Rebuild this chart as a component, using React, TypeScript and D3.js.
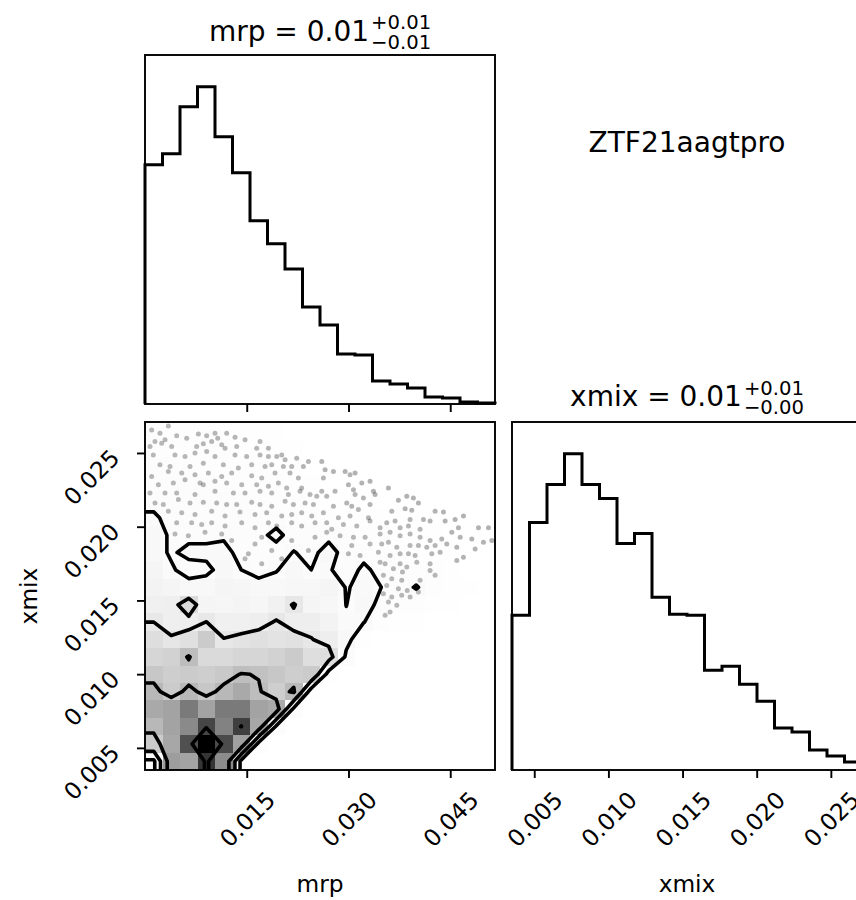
import React from "react";
import * as d3 from "d3";

// parameter names and object id
const paramNames = ["mrp", "xmix"];
const objectName = "ZTF21aagtpro";

// axis limits (sample range) of each parameter
const mrpRange = [0.0, 0.0516];
const xmixRange = [0.0035, 0.0271];

const mrpTicks = [0.015, 0.03, 0.045];
const xmixTicks = [0.005, 0.01, 0.015, 0.02, 0.025];

// title quantiles: median, +err, -err
const mrpSummary = ["0.01", "0.01", "0.01"];
const xmixSummary = ["0.01", "0.01", "0.00"];

// 1d marginal histograms (20 bins)
const mrpCounts = [239, 250, 297, 317, 267, 231, 183, 160, 135, 97, 79, 50, 49, 23, 20, 16, 7, 6, 2, 1];
const xmixCounts = [155, 248, 286, 317, 286, 272, 227, 237, 173, 156, 155, 100, 104, 86, 69, 42, 38, 20, 14, 8];

// 2d histogram mrp (columns) vs xmix (rows), first row = highest xmix
const densityRows = [
  [8, 9, 8, 8, 7, 7, 6, 5, 3, 0, 0, 0, 0, 0, 0, 0, 0, 0, 0, 0],
  [9, 9, 9, 8, 8, 7, 7, 6, 5, 2, 0, 0, 0, 0, 0, 0, 0, 0, 0, 0],
  [10, 10, 9, 9, 9, 8, 8, 7, 6, 4, 2, 0, 0, 0, 0, 0, 0, 0, 0, 0],
  [10, 11, 10, 10, 9, 9, 9, 8, 7, 6, 4, 3, 1, 0, 0, 0, 0, 0, 0, 0],
  [11, 11, 11, 10, 10, 10, 9, 9, 8, 7, 6, 5, 4, 2, 1, 0, 0, 0, 0, 0],
  [14, 11, 11, 11, 11, 10, 10, 10, 9, 8, 8, 7, 6, 5, 4, 3, 2, 1, 0, 0],
  [16, 12, 11, 11, 12, 11, 11, 15, 10, 10, 11, 10, 9, 8, 7, 6, 5, 3, 2, 1],
  [16, 12, 15, 15, 15, 11, 10, 10, 13.3, 11, 16, 10, 11, 9, 8, 7, 6, 5, 3, 2],
  [20, 14, 10, 11, 16, 13, 10.3, 12.6, 16, 13, 13.7, 10, 14.3, 11, 10, 9, 8, 6, 4, 3],
  [22, 20, 16, 17, 20, 19, 16, 16, 18, 18, 20, 12.5, 14.8, 13, 10, 13.6, 9, 7, 5, 3],
  [24, 25, 38, 20, 19, 21, 19, 23, 31, 20, 18, 12.9, 16, 11, 9, 8, 7, 5, 3, 2],
  [30, 25, 26, 30.2, 24, 24, 26, 31, 26, 26, 22, 13.9, 13.2, 9, 7, 5, 4, 3, 1, 0],
  [36, 31.5, 35, 45, 30.5, 33, 35, 33, 34, 30.5, 26, 16, 6, 3, 2, 1, 0, 0, 0, 0],
  [40, 42, 51, 38, 38, 40, 40, 42, 45, 36, 36, 11, 4, 1, 0, 0, 0, 0, 0, 0],
  [47, 44, 45, 44, 46, 50.5, 49.5, 47, 44, 45, 7, 1, 0, 0, 0, 0, 0, 0, 0, 0],
  [53, 45, 53, 46.6, 53, 58, 51, 44, 52, 5, 0, 0, 0, 0, 0, 0, 0, 0, 0, 0],
  [58, 60, 72, 60, 72, 72, 60, 57.6, 10, 2, 0, 0, 0, 0, 0, 0, 0, 0, 0, 0],
  [53, 60, 68, 85, 70, 86.5, 59, 11, 2, 0, 0, 0, 0, 0, 0, 0, 0, 0, 0, 0],
  [45, 59, 82.7, 100, 84, 61, 8, 0, 0, 0, 0, 0, 0, 0, 0, 0, 0, 0, 0, 0],
  [10, 62, 60, 89, 67, 9, 0, 0, 0, 0, 0, 0, 0, 0, 0, 0, 0, 0, 0, 0],
];

// density levels of the contour lines
const contourLevels = [13, 30, 50, 86];

// samples in the sparse region, [mrp, xmix] in units of 1e-3
const samples = [
  [3.44, 26.83], [0.98, 26.56], [2.21, 26.34], [4.67, 26.16], [6.15, 26.0], [7.87, 26.29], [9.09, 26.16],
  [10.32, 26.34], [10.72, 26.0], [12.04, 26.34], [13.27, 26.07], [14.75, 25.89], [16.96, 25.77], [2.95, 25.89],
  [1.47, 25.77], [0.74, 25.44], [2.46, 25.66], [3.93, 25.44], [7.62, 25.44], [8.6, 25.62], [9.83, 25.77],
  [11.31, 25.55], [11.8, 25.32], [13.52, 25.44], [16.47, 25.32], [18.19, 25.32], [19.42, 24.76], [20.16, 24.87],
  [1.23, 24.87], [4.42, 24.87], [5.9, 24.76], [7.37, 24.99], [9.09, 25.1], [10.32, 24.76], [13.27, 24.87],
  [14.99, 24.76], [16.96, 24.87], [18.19, 24.76], [20.65, 24.54], [22.37, 24.65], [24.09, 24.42], [2.21, 24.2],
  [3.69, 24.09], [6.64, 24.09], [8.6, 24.31], [11.55, 24.2], [13.76, 23.98], [15.73, 24.2], [17.7, 24.09],
  [18.68, 24.2], [20.4, 24.09], [21.63, 24.09], [23.35, 24.09], [0.98, 23.41], [3.44, 23.75], [5.41, 23.64],
  [7.37, 23.53], [9.34, 23.64], [11.31, 23.41], [12.78, 23.64], [15.73, 23.46], [17.21, 23.3], [19.17, 23.64],
  [21.38, 23.64], [22.61, 23.3], [1.97, 22.85], [4.18, 22.96], [5.9, 23.19], [8.11, 22.96], [8.6, 22.85],
  [10.32, 23.08], [12.04, 22.96], [14.26, 22.85], [16.47, 22.85], [18.19, 22.74], [19.66, 22.96], [20.89, 22.63],
  [23.1, 22.63], [0.74, 22.29], [2.95, 22.29], [4.67, 22.29], [7.37, 22.18], [10.32, 22.4], [13.03, 22.29],
  [14.75, 22.29], [16.96, 22.4], [18.68, 22.29], [21.14, 22.18], [22.86, 22.4], [24.33, 22.18], [25.32, 22.06],
  [1.47, 21.61], [2.7, 21.5], [4.92, 21.84], [6.64, 21.61], [8.6, 21.66], [10.57, 21.61], [12.04, 21.5],
  [13.52, 21.5], [15.73, 21.66], [16.96, 21.5], [18.68, 21.39], [20.65, 21.73], [21.88, 21.5], [23.6, 21.61],
  [24.83, 21.5], [3.44, 21.05], [5.41, 20.94], [7.37, 20.83], [9.83, 21.05], [11.8, 20.72], [14.01, 20.99],
  [16.22, 20.83], [17.94, 20.94], [20.16, 20.72], [21.63, 20.83], [23.1, 20.94], [24.58, 20.72], [4.67, 20.27],
  [6.88, 20.27], [8.36, 20.15], [9.83, 20.27], [11.8, 20.04], [14.26, 20.27], [16.22, 19.93], [18.19, 20.27],
  [19.42, 20.04], [21.63, 20.27], [23.1, 20.04], [25.07, 20.27],
  [26.06, 24.42], [26.55, 23.86], [27.78, 23.75], [26.3, 23.3], [29.5, 23.75], [30.23, 23.53], [30.97, 23.64],
  [33.18, 23.08], [31.96, 22.96], [29.99, 22.85], [30.73, 22.51], [26.06, 22.4], [28.02, 22.4], [26.79, 22.06],
  [33.68, 22.4], [33.92, 22.18], [35.89, 22.63], [30.97, 22.18], [32.2, 21.95], [29.74, 21.61], [27.78, 21.39],
  [30.48, 21.39], [31.46, 21.17], [33.18, 21.5], [37.36, 21.79], [38.59, 22.06], [39.57, 21.95], [40.31, 21.61],
  [36.38, 21.05], [38.35, 21.21], [39.33, 21.12], [26.3, 20.94], [28.51, 20.6], [30.23, 20.72], [32.94, 20.6],
  [33.18, 20.38], [35.64, 20.27], [36.87, 20.38], [39.08, 20.49], [41.05, 20.49], [42.03, 20.38], [42.77, 21.05],
  [44.0, 20.99], [44.25, 20.38], [45.72, 20.49], [46.95, 20.72], [26.79, 20.27], [29.25, 20.15], [31.22, 20.04],
  [34.66, 19.93], [37.61, 19.93], [38.84, 20.04], [40.56, 19.82], [46.21, 19.93], [49.16, 19.93], [50.64, 19.93],
  [27.53, 19.82],
  [26.79, 19.62], [28.76, 19.39], [30.73, 19.28], [32.45, 19.28], [34.66, 19.51], [36.13, 19.62], [37.61, 19.39],
  [39.08, 19.51], [40.56, 19.28], [42.03, 19.06], [43.75, 19.17], [45.23, 19.62], [46.46, 19.28], [48.18, 19.17],
  [49.9, 18.94], [51.13, 19.06], [30.48, 18.72], [33.18, 18.83], [34.9, 18.83], [35.89, 18.94], [37.12, 18.61],
  [39.08, 18.72], [40.31, 18.72], [41.54, 18.61], [42.77, 18.72], [44.49, 18.83], [45.97, 18.61], [48.67, 18.49],
  [29.99, 18.16], [31.71, 18.04], [34.41, 18.27], [36.13, 18.04], [37.61, 18.16], [38.84, 18.16], [39.82, 18.04],
  [42.28, 18.16], [43.51, 18.27], [45.97, 17.71], [46.95, 17.93], [34.66, 17.59], [35.4, 17.48], [37.61, 17.48],
  [38.59, 17.26], [40.07, 17.59], [42.03, 17.48], [36.62, 17.14], [37.96, 16.92], [42.03, 17.03], [42.77, 16.7],
  [35.15, 16.7], [36.38, 16.47], [37.85, 16.36], [40.56, 16.36], [35.64, 16.02], [37.36, 15.8], [38.66, 15.68],
  [40.31, 15.57], [35.15, 15.46], [36.38, 15.23], [37.85, 15.35], [39.08, 15.23], [35.89, 14.9], [37.12, 14.67],
  [36.13, 14.22], [35.4, 14.0],
  [4.42, 19.51], [6.39, 19.39], [8.85, 19.62], [11.31, 19.51], [12.78, 19.06], [15.24, 18.16], [16.22, 18.83],
  [14.75, 17.82], [17.21, 17.48], [18.68, 18.38], [20.16, 17.82], [21.63, 19.06], [22.61, 17.71], [24.09, 18.38],
  [25.07, 19.28], [6.88, 18.38], [8.36, 17.93], [9.83, 18.38], [11.31, 18.38], [17.21, 19.28], [23.6, 17.03],
];

const W = 856;
const H = 900;
const FONT = "DejaVu Sans, Verdana, sans-serif";

function addTitle(g, cx, base, name, s) {
  const main = g.append("text").attr("y", base).attr("font-size", 28).text(`${name} = ${s[0]}`);
  const sup = g.append("text").attr("y", base - 11.5).attr("font-size", 19.6).text(`+${s[1]}`);
  const sub = g.append("text").attr("y", base + 8).attr("font-size", 19.6).text(`\u2212${s[2]}`);
  const w1 = main.node().getComputedTextLength();
  const w2 = Math.max(sup.node().getComputedTextLength(), sub.node().getComputedTextLength());
  const x0 = cx - (w1 + 2 + w2) / 2;
  main.attr("x", x0);
  sup.attr("x", x0 + w1 + 2);
  sub.attr("x", x0 + w1 + 2);
}

function drawCorner(svgEl) {
  const svg = d3.select(svgEl);
  svg.selectAll("*").remove();
  svg.attr("width", W).attr("height", H).style("font-family", FONT);

  // panel frames
  const left = 145, right = 495, left2 = 512, right2 = 862;
  const top1 = 55, bot1 = 404, top2 = 422, bot2 = 770;
  const nb = mrpCounts.length;

  const xMrp = d3.scaleLinear().domain(mrpRange).range([left, right]);
  const xXmix = d3.scaleLinear().domain(xmixRange).range([left2, right2]);
  const yXmix = d3.scaleLinear().domain(xmixRange).range([bot2, top2]);
  const yH1 = d3.scaleLinear().domain([0, 1.1 * d3.max(mrpCounts)]).range([bot1, top1]);
  const yH2 = d3.scaleLinear().domain([0, 1.1 * d3.max(xmixCounts)]).range([bot2, top2]);

  const edges = (r) => d3.range(nb + 1).map((i) => r[0] + (i * (r[1] - r[0])) / nb);
  const mrpEdges = edges(mrpRange);
  const xmixEdges = edges(xmixRange);

  const stepPts = (e, counts) => {
    const pts = [[e[0], 0]];
    counts.forEach((c, i) => {
      pts.push([e[i], c]);
      pts.push([e[i + 1], c]);
    });
    pts.push([e[nb], 0]);
    return pts;
  };

  const defs = svg.append("defs");
  defs.append("clipPath").attr("id", "clip2d").append("rect")
    .attr("x", left).attr("y", top2).attr("width", right - left).attr("height", bot2 - top2);

  // ---- top left: mrp histogram
  const line1 = d3.line().x((d) => xMrp(d[0])).y((d) => yH1(d[1]));
  svg.append("path").attr("d", line1(stepPts(mrpEdges, mrpCounts)))
    .attr("fill", "none").attr("stroke", "black").attr("stroke-width", 3).attr("stroke-linejoin", "miter");

  // ---- right: xmix histogram
  const line2 = d3.line().x((d) => xXmix(d[0])).y((d) => yH2(d[1]));
  svg.append("path").attr("d", line2(stepPts(xmixEdges, xmixCounts)))
    .attr("fill", "none").attr("stroke", "black").attr("stroke-width", 3).attr("stroke-linejoin", "miter");

  // ---- 2d panel
  const g2 = svg.append("g").attr("clip-path", "url(#clip2d)");

  g2.append("g").selectAll("circle").data(samples).join("circle")
    .attr("cx", (d) => xMrp(d[0] * 1e-3)).attr("cy", (d) => yXmix(d[1] * 1e-3))
    .attr("r", 2.5).attr("fill", "black").attr("fill-opacity", 0.3);

  // padded grid like corner.hist2d for contours at plot edges
  const n = nb, m = n + 4;
  const dens = densityRows.slice().reverse();
  const flat = dens.flat();
  const hMax = d3.max(flat), hMin = d3.min(flat);
  const grid = new Array(m * m).fill(hMin);
  const put = (j, i, v) => { grid[j * m + i] = v; };
  for (let k = 0; k < n; k++) for (let i = 0; i < n; i++) put(k + 2, i + 2, dens[k][i]);
  for (let k = 0; k < n; k++) { put(k + 2, 1, dens[k][0]); put(k + 2, m - 2, dens[k][n - 1]); }
  for (let i = 0; i < n; i++) { put(1, i + 2, dens[0][i]); put(m - 2, i + 2, dens[n - 1][i]); }
  put(1, 1, dens[0][0]); put(1, m - 2, dens[0][n - 1]);
  put(m - 2, 1, dens[n - 1][0]); put(m - 2, m - 2, dens[n - 1][n - 1]);

  const dxb = (mrpRange[1] - mrpRange[0]) / n;
  const dyb = (xmixRange[1] - xmixRange[0]) / n;
  const proj = d3.geoTransform({
    point: function (px, py) {
      this.stream.point(xMrp(mrpRange[0] + (px - 2) * dxb), yXmix(xmixRange[0] + (py - 2) * dyb));
    },
  });
  const cpath = d3.geoPath(proj);
  const contours = d3.contours().size([m, m]).thresholds(contourLevels)(grid);

  // white base fill hides the dense samples
  g2.append("path").attr("d", cpath(contours[0])).attr("fill", "white").attr("stroke", "none");

  // density cells
  const cells = [];
  dens.forEach((row, k) => row.forEach((v, i) => cells.push({ k, i, v })));
  g2.append("g").attr("shape-rendering", "crispEdges").selectAll("rect").data(cells).join("rect")
    .attr("x", (d) => xMrp(mrpEdges[d.i]))
    .attr("y", (d) => yXmix(xmixEdges[d.k + 1]))
    .attr("width", (d) => xMrp(mrpEdges[d.i + 1]) - xMrp(mrpEdges[d.i]))
    .attr("height", (d) => yXmix(xmixEdges[d.k]) - yXmix(xmixEdges[d.k + 1]))
    .attr("fill", (d) => {
      const t = (hMax - d.v) / (hMax - hMin);
      const c = Math.round(255 * t);
      return d3.rgb(c, c, c).toString();
    })
    .attr("fill-opacity", (d) => 1 - (hMax - d.v) / (hMax - hMin));

  g2.append("g").selectAll("path").data(contours).join("path")
    .attr("d", (d) => cpath(d)).attr("fill", "none").attr("stroke", "black")
    .attr("stroke-width", 3.6).attr("stroke-linejoin", "round");

  // ---- frames
  const frames = [
    [left, top1, right, bot1],
    [left, top2, right, bot2],
    [left2, top2, right2, bot2],
  ];
  svg.append("g").selectAll("rect").data(frames).join("rect")
    .attr("x", (d) => d[0]).attr("y", (d) => d[1])
    .attr("width", (d) => d[2] - d[0]).attr("height", (d) => d[3] - d[1])
    .attr("fill", "none").attr("stroke", "black").attr("stroke-width", 1.9);

  // ---- axes
  const fmt = d3.format(".3f");
  const styleAxis = (g) => {
    g.select(".domain").remove();
    g.attr("font-family", FONT).attr("font-size", 23.3);
    g.selectAll(".tick line").attr("stroke", "black").attr("stroke-width", 1.9);
    g.selectAll(".tick text").attr("fill", "black");
  };
  const bottomLabels = (g) => {
    g.selectAll(".tick text")
      .attr("x", 0).attr("y", 0).attr("dy", null)
      .attr("text-anchor", "middle").attr("dominant-baseline", "central")
      .attr("transform", "translate(0,49) rotate(-45)");
  };

  svg.append("g").attr("transform", `translate(0,${bot1})`)
    .call(d3.axisBottom(xMrp).tickValues(mrpTicks).tickSize(8).tickFormat(() => ""))
    .call(styleAxis);

  svg.append("g").attr("transform", `translate(0,${bot2})`)
    .call(d3.axisBottom(xMrp).tickValues(mrpTicks).tickSize(8).tickFormat(fmt))
    .call(styleAxis).call(bottomLabels);

  svg.append("g").attr("transform", `translate(0,${bot2})`)
    .call(d3.axisBottom(xXmix).tickValues(xmixTicks).tickSize(8).tickFormat(fmt))
    .call(styleAxis).call(bottomLabels);

  svg.append("g").attr("transform", `translate(${left},0)`)
    .call(d3.axisLeft(yXmix).tickValues(xmixTicks).tickSize(8).tickFormat(fmt))
    .call(styleAxis)
    .call((g) => g.selectAll(".tick text")
      .attr("x", 0).attr("y", 0).attr("dy", null)
      .attr("text-anchor", "end").attr("dominant-baseline", "central")
      .attr("transform", "translate(-30,0) rotate(-45)"));

  // ---- labels and titles (x labels sit 0.3 axes-heights below the panel)
  const txt = svg.append("g").attr("fill", "black");
  txt.append("text").attr("x", (left + right) / 2).attr("y", 892).attr("text-anchor", "middle")
    .attr("font-size", 23.3).text(paramNames[0]);
  txt.append("text").attr("x", (left2 + right2) / 2).attr("y", 892).attr("text-anchor", "middle")
    .attr("font-size", 23.3).text(paramNames[1]);
  txt.append("text").attr("transform", `translate(37,${(top2 + bot2) / 2}) rotate(-90)`)
    .attr("text-anchor", "middle").attr("font-size", 23.3).text(paramNames[1]);

  txt.append("text").attr("x", (left2 + right2) / 2).attr("y", 152).attr("text-anchor", "middle")
    .attr("font-size", 28).text(objectName);

  addTitle(txt, (left + right) / 2, 40.5, paramNames[0], mrpSummary);
  addTitle(txt, (left2 + right2) / 2, 406, paramNames[1], xmixSummary);
}

const App = () => {
  const svg = React.useRef(null);

  React.useEffect(() => {
    drawCorner(svg.current);
  }, [svg]);

  return (
    <div style={{ position: "absolute", left: 0, top: 0, background: "white" }}>
      <svg ref={svg} />
    </div>
  );
};

export default App;
